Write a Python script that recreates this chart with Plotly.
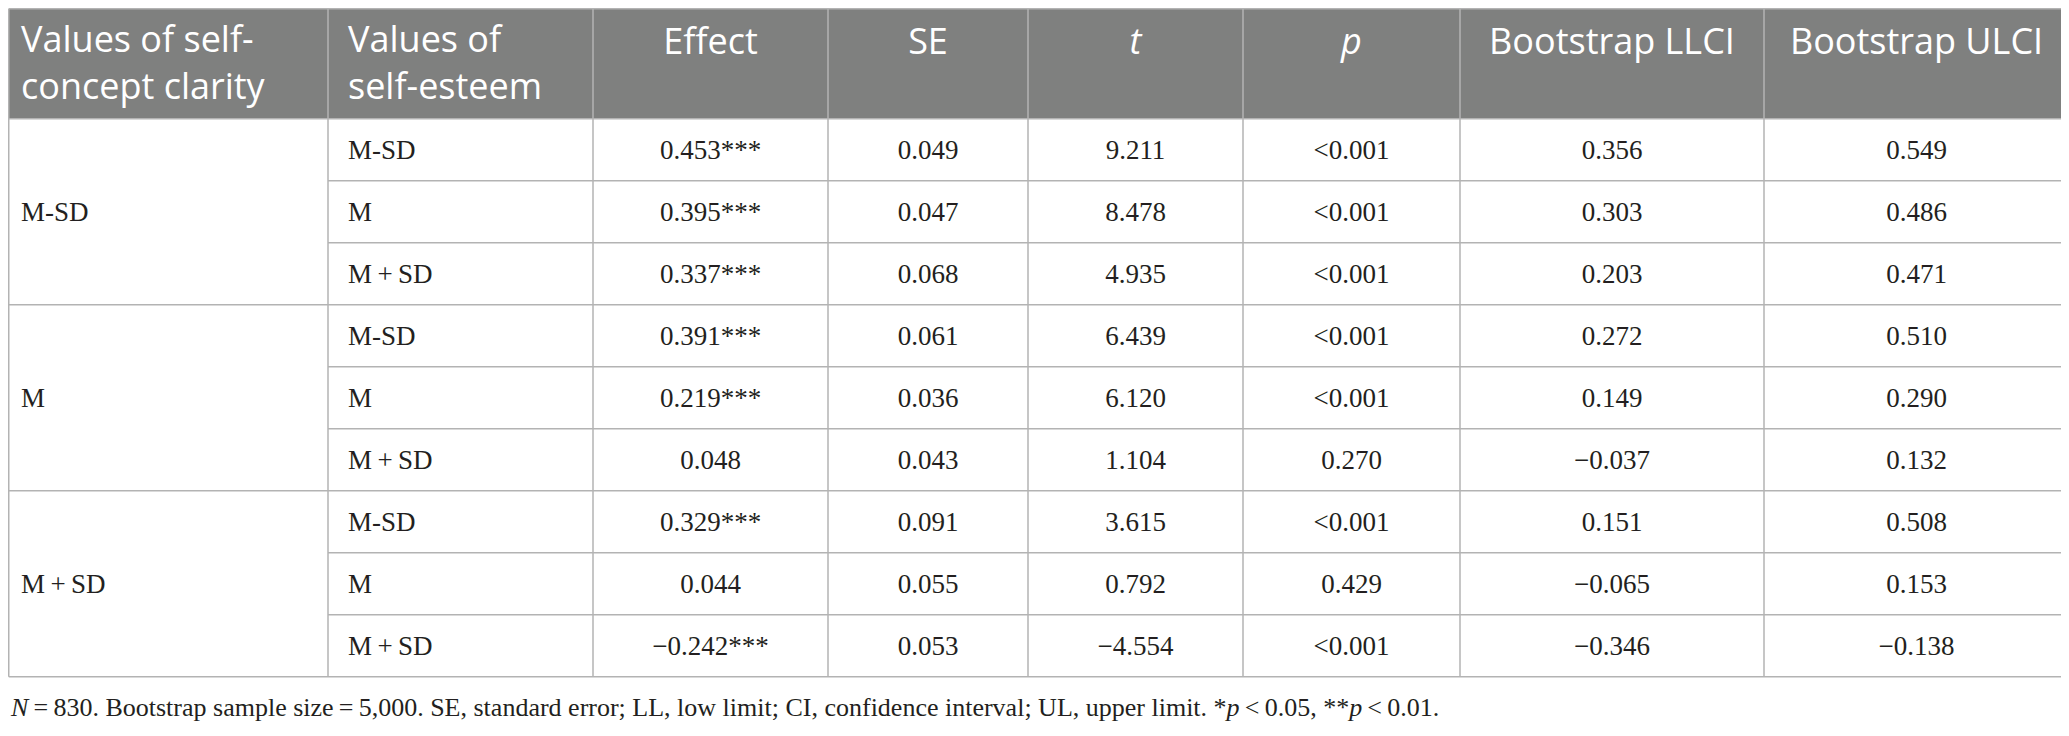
import numpy as np
import plotly.graph_objects as go

# table content
clarity_levels = ["M-SD", "M", "M\u2009+\u2009SD"]
esteem_levels = ["M-SD", "M", "M\u2009+\u2009SD"] * 3
effect = ["0.453***", "0.395***", "0.337***", "0.391***", "0.219***", "0.048",
          "0.329***", "0.044", "\u22120.242***"]
se = ["0.049", "0.047", "0.068", "0.061", "0.036", "0.043", "0.091", "0.055", "0.053"]
t_vals = ["9.211", "8.478", "4.935", "6.439", "6.120", "1.104", "3.615", "0.792", "\u22124.554"]
p_vals = ["&lt;0.001", "&lt;0.001", "&lt;0.001", "&lt;0.001", "&lt;0.001", "0.270",
          "&lt;0.001", "0.429", "&lt;0.001"]
llci = ["0.356", "0.303", "0.203", "0.272", "0.149", "\u22120.037", "0.151", "\u22120.065", "\u22120.346"]
ulci = ["0.549", "0.486", "0.471", "0.510", "0.290", "0.132", "0.508", "0.153", "\u22120.138"]

headers = ["Values of self-<br>concept clarity", "Values of<br>self-esteem", "Effect", "SE",
           "<i>t</i>", "<i>p</i>", "Bootstrap LLCI", "Bootstrap ULCI"]
col_widths = [327, 265, 235, 200, 215, 217, 304, 305]

footnote = ("<i>N</i>\u2009=\u2009830. Bootstrap sample size\u2009=\u20095,000. SE, standard error; "
            "LL, low limit; CI, confidence interval; UL, upper limit. "
            "*<i>p</i>\u2009&lt;\u20090.05, **<i>p</i>\u2009&lt;\u20090.01.")

W, H = 2069, 736
BODY_MARGIN = 8  # default page margin around the plot div
TOP, HEAD_H, ROW_H = 8.75, 110, 62
PAD = 20
HEAD_BG = "#7f807f"
GRID = "#b3b3b3"
INK = "#231f20"

edges = np.concatenate([[1], 1 + np.cumsum(col_widths)]).astype(float)
text_left = edges[:2] + PAD
edges[0] = BODY_MARGIN + 0.75  # nothing can be drawn left of the page margin
centers = (edges[:-1] + edges[1:]) / 2
n_rows = len(esteem_levels)
row_top = TOP + HEAD_H + ROW_H * np.arange(n_rows)
row_mid = row_top + ROW_H / 2 + 2
bottom = TOP + HEAD_H + ROW_H * n_rows

fig = go.Figure()

# header background
fig.add_shape(type="rect", x0=edges[0], x1=edges[-1], y0=TOP, y1=TOP + HEAD_H,
              fillcolor=HEAD_BG, line_width=0, layer="below")

# grid lines
gx, gy = [], []
for yv in [TOP, TOP + HEAD_H, bottom]:
    gx += [edges[0], edges[-1], None]
    gy += [yv, yv, None]
for i in range(1, n_rows):
    x_start = edges[0] if i % 3 == 0 else edges[1]
    gx += [x_start, edges[-1], None]
    gy += [row_top[i], row_top[i], None]
for xv in edges:
    gx += [xv, xv, None]
    gy += [TOP, bottom, None]
fig.add_trace(go.Scatter(x=gx, y=gy, mode="lines", line=dict(color=GRID, width=1.5),
                         hoverinfo="skip", showlegend=False))

# header text (top aligned: wrapped headers are centred lower)
head_font = dict(family="Open Sans", size=36, color="white")
head_x = list(text_left) + list(centers[2:])
head_y = [TOP + 36 + 22 * h.count("<br>") for h in headers]
head_pos = ["middle right"] * 2 + ["middle center"] * 6
fig.add_trace(go.Scatter(x=head_x, y=head_y, text=headers, mode="text",
                         textposition=head_pos, textfont=head_font,
                         hoverinfo="skip", showlegend=False))

# body text
cell_font = dict(family="Liberation Serif", size=27, color=INK)
fig.add_trace(go.Scatter(x=[text_left[0]] * 3, y=row_mid[1::3], text=clarity_levels,
                         mode="text", textposition="middle right", textfont=cell_font,
                         hoverinfo="skip", showlegend=False))
fig.add_trace(go.Scatter(x=[text_left[1]] * n_rows, y=row_mid, text=esteem_levels,
                         mode="text", textposition="middle right", textfont=cell_font,
                         hoverinfo="skip", showlegend=False))
for j, col in enumerate([effect, se, t_vals, p_vals, llci, ulci]):
    fig.add_trace(go.Scatter(x=[centers[j + 2]] * n_rows, y=row_mid, text=col,
                             mode="text", textposition="middle center", textfont=cell_font,
                             hoverinfo="skip", showlegend=False))

fig.add_annotation(text=footnote, x=0, y=bottom + 31, xref="paper", yref="y",
                   xanchor="left", yanchor="middle", showarrow=False,
                   font=dict(family="Liberation Serif", size=26, color=INK))

# axes in page pixels, shifted so the page margin is absorbed
fig.update_xaxes(range=[BODY_MARGIN, W], visible=False, fixedrange=True)
fig.update_yaxes(range=[H, BODY_MARGIN], visible=False, fixedrange=True)
fig.update_layout(width=W - BODY_MARGIN, height=H - BODY_MARGIN,
                  margin=dict(l=0, r=0, t=0, b=0),
                  paper_bgcolor="white", plot_bgcolor="white")

fig.write_html("out.html")
